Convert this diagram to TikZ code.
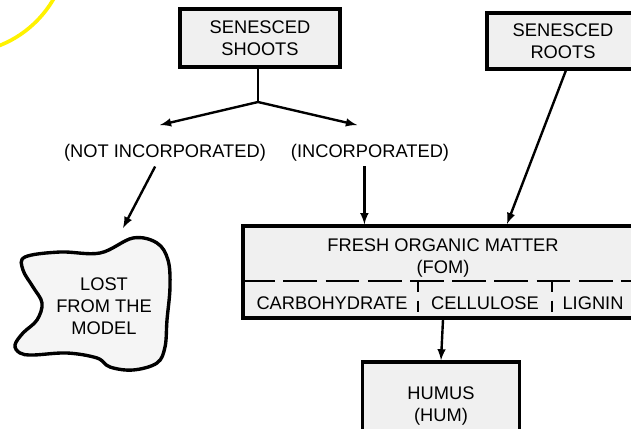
\documentclass[tikz,border=0pt]{standalone}
\usepackage{fontspec}
\setmainfont{Liberation Sans}
\begin{document}
\begin{tikzpicture}[x=0.025cm,y=-0.025cm,>=latex,
  every node/.style={font=\fontsize{13}{15.5}\selectfont,align=center},
  pool/.style={draw,line width=2.4pt,fill=gray!12,inner sep=0pt},
  flow/.style={->,line width=1.7pt}]
\useasboundingbox (0,0) rectangle (631,428);
\clip (0,0) rectangle (631,428);

% marker ring
\draw [yellow,line width=2.6pt] (-40,-55) circle [radius=108];

% sources
\node [pool,minimum width=4cm,minimum height=1.45cm] (shoots) at (260,38) {SENESCED\\SHOOTS};
\node [pool,minimum width=3.8cm,minimum height=1.4cm] (roots) at (563,41) {SENESCED\\ROOTS};

\coordinate (split) at (258,102);
\coordinate (lefttip) at (160,125);
\coordinate (righttip) at (357,125);
\draw [line width=1.7pt] (shoots.south -| split) -- (split);
\draw [flow] (split) -- (lefttip);
\draw [flow] (split) -- (righttip);

\node (notinc) at (165,153) {(NOT INCORPORATED)};
\node (inc) at (370,153) {(INCORPORATED)};

% lost
\draw [line width=2.4pt,fill=gray!8,tension=0.6] plot [smooth cycle] coordinates {
  (25,257) (60,252) (100,253) (133,238) (157,243) (168,260) (170,287)
  (167,320) (165,347) (157,363) (133,370) (110,367) (97,358) (67,353)
  (33,355) (20,353) (15,345) (23,333) (37,320) (42,303) (33,287) (23,270)};
\node (lost) at (104,306) {LOST\\FROM THE\\MODEL};
\coordinate (losttop) at (123,228);
\draw [flow] ([xshift=-7]notinc.south) -- (losttop);

% fresh organic matter
\node [pool,minimum width=10cm,minimum height=2.3cm] (fom) at (443,272) {};
\node (fomname) at (443,258) {FRESH ORGANIC MATTER\\(FOM)};
\draw [line width=1.8pt,dash pattern=on 24pt off 6pt] (fom.west |- 0,281) -- (fom.east |- 0,281);
\draw [line width=1.8pt,dash pattern=on 8pt off 6pt] (418,281) -- (418,318);
\draw [line width=1.8pt,dash pattern=on 8pt off 6pt] (552,281) -- (552,318);
\node (carbo) at (332,303) {CARBOHYDRATE};
\node (cell) at (485,303) {CELLULOSE};
\node (lig) at (593,303) {LIGNIN};

\draw [flow] ([xshift=-4]inc.south) -- ([xshift=-4]inc.south |- fom.north);
\draw [flow] ([xshift=2]roots.south) -- (507,224);

% humus
\node [pool,minimum width=3.93cm,minimum height=1.8cm] (hum) at (441,398) {};
\node (humname) at (441,406) {HUMUS\\(HUM)};
\draw [flow] (fom.south) -- (hum.north);

\end{tikzpicture}
\end{document}
